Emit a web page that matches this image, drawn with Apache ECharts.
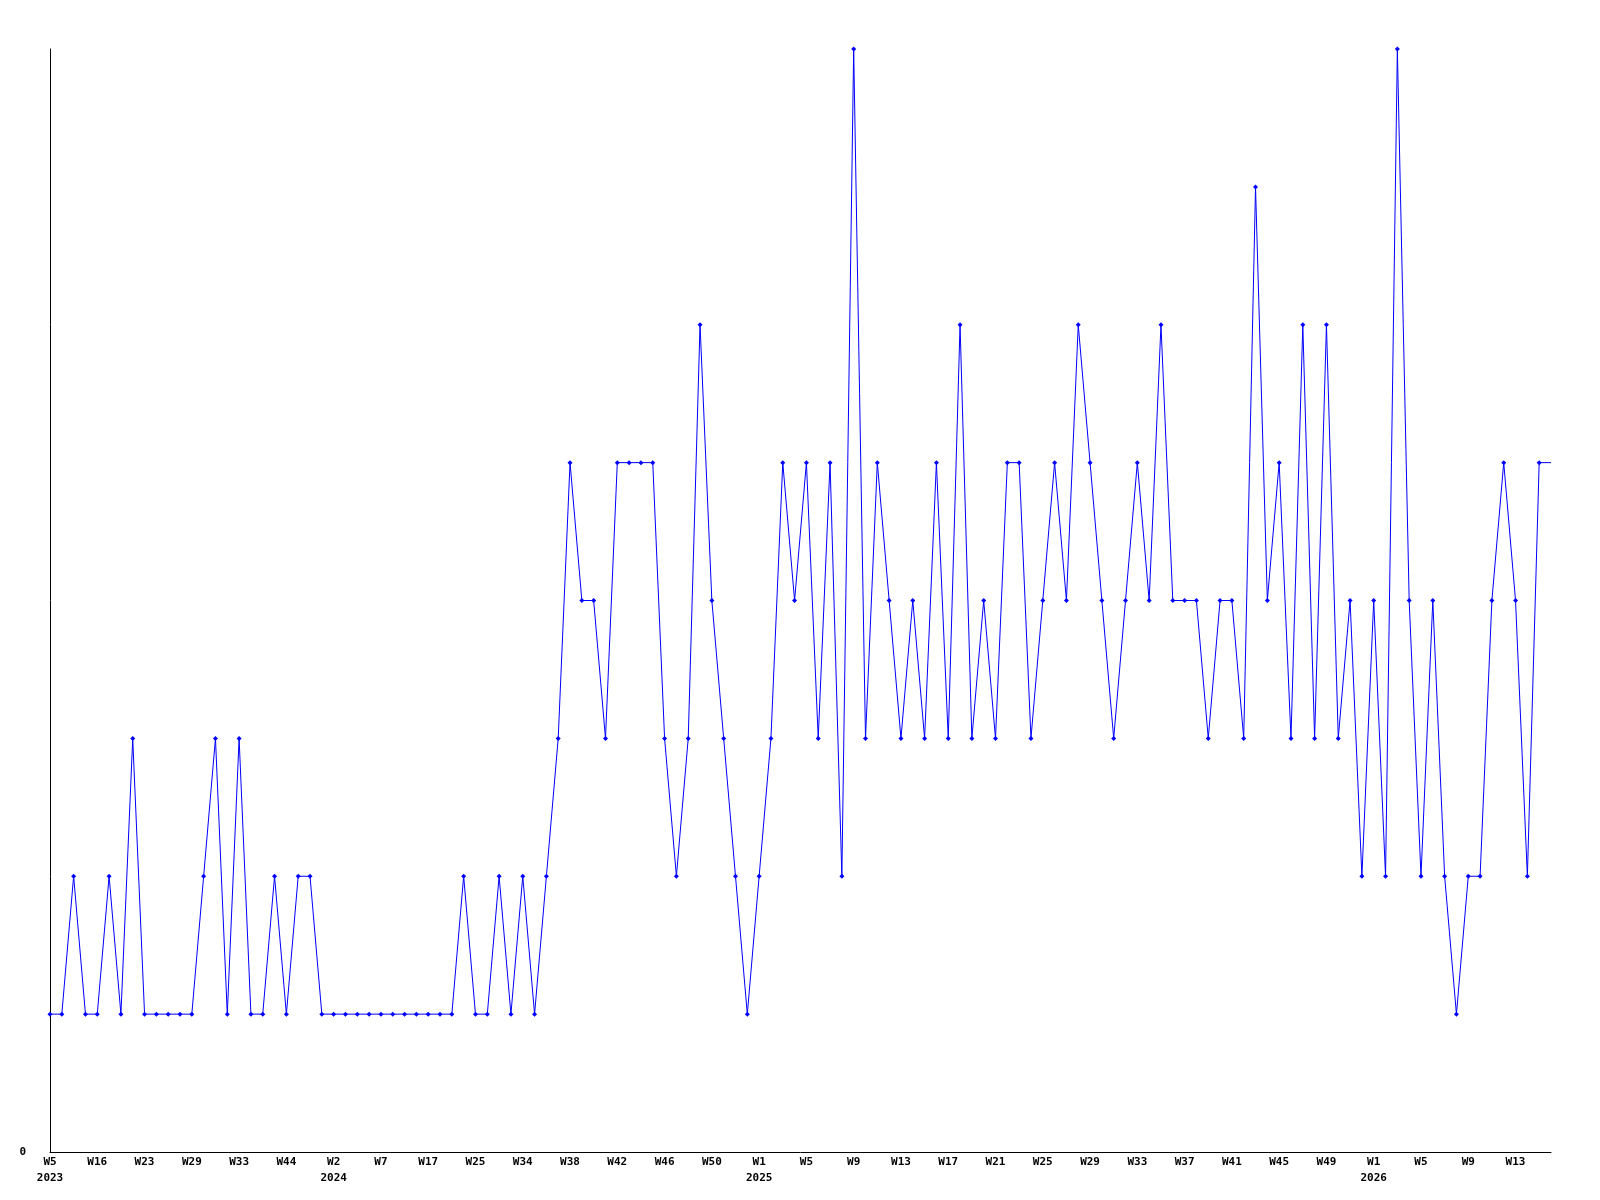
<!DOCTYPE html>
<html>
<head>
<meta charset="utf-8">
<script src="https://cdn.jsdelivr.net/npm/echarts@6/dist/echarts.min.js"></script>
<style>
html,body{margin:0;padding:0;background:#fff;}
#chart{width:1600px;height:1200px;}
</style>
</head>
<body>
<div id="chart"></div>
<script>
// Week categories (one per point); every 4th is shown as a tick label
const weeks = [
 'W5','W8','W10','W13','W16','W18','W20','W21','W23','W25',
 'W26','W28','W29','W30','W31','W32','W33','W36','W39','W42',
 'W44','W47','W49','W51','W2','W3','W5','W6','W7','W10',
 'W12','W15','W17','W19','W21','W23','W25','W28','W30','W32',
 'W34','W35','W36','W37','W38','W39','W40','W41','W42','W43',
 'W44','W45','W46','W47','W48','W49','W50','W51','W52','W53',
 'W1','W2','W3','W4','W5','W6','W7','W8','W9','W10',
 'W11','W12','W13','W14','W15','W16','W17','W18','W19','W20',
 'W21','W22','W23','W24','W25','W26','W27','W28','W29','W30',
 'W31','W32','W33','W34','W35','W36','W37','W38','W39','W40',
 'W41','W42','W43','W44','W45','W46','W47','W48','W49','W50',
 'W51','W52','W1','W2','W3','W4','W5','W6','W7','W8',
 'W9','W10','W11','W12','W13','W14','W15','W16'
];
// Year shown under the first week of each year
const yearMarks = {0:'2023', 24:'2024', 60:'2025', 112:'2026'};

const values = [
 1,1,2,1,1,2,1,3,1,1,
 1,1,1,2,3,1,3,1,1,2,
 1,2,2,1,1,1,1,1,1,1,
 1,1,1,1,1,2,1,1,2,1,
 2,1,2,3,5,4,4,3,5,5,
 5,5,3,2,3,6,4,3,2,1,
 2,3,5,4,5,3,5,2,8,3,
 5,4,3,4,3,5,3,6,3,4,
 3,5,5,3,4,5,4,6,5,4,
 3,4,5,4,6,4,4,4,3,4,
 4,3,7,4,5,3,6,3,6,3,
 4,2,4,2,8,4,2,4,2,1,
 2,2,4,5,4,2,5,5
];

const yTickLabels = ['0'];

const categories = weeks.map((w, i) => yearMarks[i] ? w + '\n' + yearMarks[i] : w);
const seriesData = values.map((v, i) => i === values.length - 1 ? {value: v, symbol: 'none'} : v);

const font = {fontFamily: 'DejaVu Sans Mono', fontWeight: 'bold', fontSize: 11, color: '#000'};

const chart = echarts.init(document.getElementById('chart'), null, {renderer: 'canvas'});
chart.setOption({
  animation: false,
  backgroundColor: '#fff',
  grid: {left: 50, right: 49, top: 49, bottom: 48, containLabel: false},
  xAxis: {
    type: 'category',
    data: categories,
    boundaryGap: false,
    axisLine: {show: true, lineStyle: {color: '#000', width: 1}},
    axisTick: {show: false},
    splitLine: {show: false},
    axisLabel: Object.assign({interval: 3, margin: 2, lineHeight: 16, align: 'center'}, font)
  },
  yAxis: {
    type: 'value',
    min: 0, max: 8, interval: 8,
    axisLine: {show: true, lineStyle: {color: '#000', width: 1}},
    axisTick: {show: false},
    splitLine: {show: false},
    axisLabel: Object.assign({margin: 24, formatter: v => v === 0 ? yTickLabels[0] : ''}, font)
  },
  series: [{
    type: 'line',
    data: seriesData,
    symbol: 'diamond',
    symbolSize: 5,
    showAllSymbol: true,
    lineStyle: {color: '#0000ff', width: 1},
    itemStyle: {color: '#0000ff'},
    clip: false
  }]
});
</script>
</body>
</html>
